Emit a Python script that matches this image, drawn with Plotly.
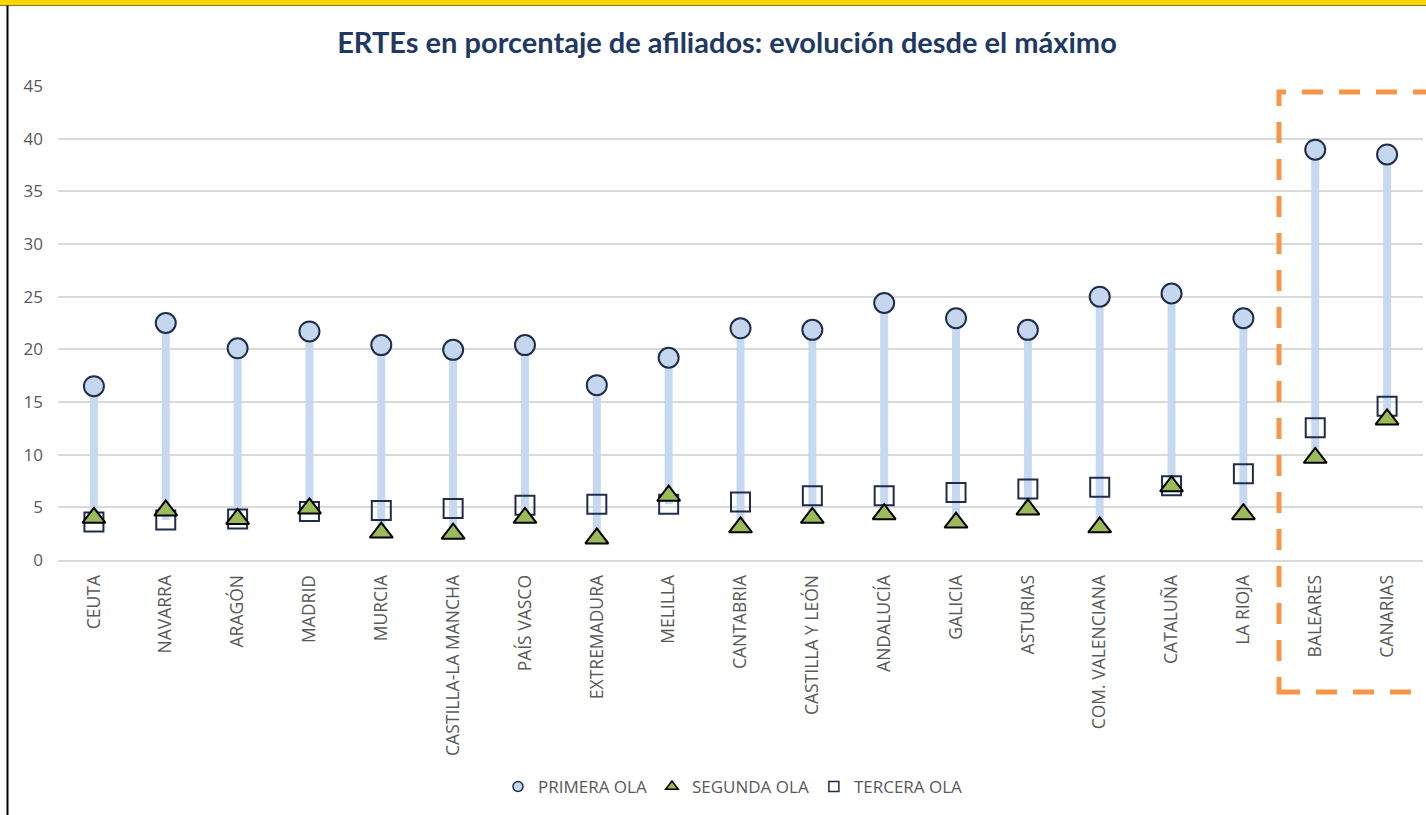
import plotly.graph_objects as go

# Datos (porcentaje de afiliados en ERTE)
comunidades = ["CEUTA", "NAVARRA", "ARAGÓN", "MADRID", "MURCIA", "CASTILLA-LA MANCHA",
               "PAÍS VASCO", "EXTREMADURA", "MELILLA", "CANTABRIA", "CASTILLA Y LEÓN",
               "ANDALUCÍA", "GALICIA", "ASTURIAS", "COM. VALENCIANA", "CATALUÑA",
               "LA RIOJA", "BALEARES", "CANARIAS"]
primera_ola = [16.5, 22.5, 20.1, 21.7, 20.4, 19.95, 20.4, 16.6, 19.2, 22.0, 21.85,
               24.4, 22.95, 21.85, 25.0, 25.3, 22.95, 38.95, 38.5]
segunda_ola = [4.0, 4.7, 3.9, 4.9, 2.6, 2.5, 4.0, 2.05, 6.1, 3.1, 4.0,
               4.35, 3.55, 4.8, 3.1, 7.0, 4.35, 9.7, 13.35]
tercera_ola = [3.6, 3.8, 3.9, 4.6, 4.7, 4.9, 5.2, 5.3, 5.3, 5.5, 6.1,
               6.1, 6.4, 6.75, 6.9, 7.05, 8.2, 12.55, 14.6]

W, H = 1426, 815
L, R, T, B = 58, 3, 86, 255
plot_h = H - T - B
plot_w = W - L - R

def py(p):  # pixel y -> paper y
    return (H - B - p) / plot_h

def px_(p):  # pixel x -> paper x
    return (p - L) / plot_w

# lineas max-min por comunidad
hl_x, hl_y = [], []
for c, a, b, t in zip(comunidades, primera_ola, segunda_ola, tercera_ola):
    hl_x += [c, c, None]
    hl_y += [max(a, b, t), min(a, b, t), None]

fig = go.Figure()
fig.add_trace(go.Scatter(x=hl_x, y=hl_y, mode="lines", line=dict(color="#C6D9F1", width=8),
                         showlegend=False, hoverinfo="skip"))
fig.add_trace(go.Scatter(x=comunidades, y=primera_ola, mode="markers", name="PRIMERA OLA",
                         showlegend=False,
                         marker=dict(symbol="circle", size=20, color="#C5D7EF",
                                     line=dict(color="#1F2D4A", width=2))))
fig.add_trace(go.Scatter(x=comunidades, y=tercera_ola, mode="markers", name="TERCERA OLA",
                         showlegend=False,
                         marker=dict(symbol="square-open", size=19, color="#1F2D4A",
                                     line=dict(width=2))))
fig.add_trace(go.Scatter(x=comunidades, y=segunda_ola, mode="markers", name="SEGUNDA OLA",
                         showlegend=False,
                         marker=dict(symbol="triangle-up", size=20, color="#9BBB59",
                                     line=dict(color="#000000", width=2))))

# entradas de leyenda con marcadores pequeños
fig.add_trace(go.Scatter(x=[None], y=[None], mode="markers", name="PRIMERA OLA",
                         marker=dict(symbol="circle", size=10, color="#C5D7EF",
                                     line=dict(color="#1F2D4A", width=1.5))))
fig.add_trace(go.Scatter(x=[None], y=[None], mode="markers", name="SEGUNDA OLA",
                         marker=dict(symbol="triangle-up", size=11, color="#9BBB59",
                                     line=dict(color="#000000", width=1.5))))
fig.add_trace(go.Scatter(x=[None], y=[None], mode="markers", name="TERCERA OLA",
                         marker=dict(symbol="square-open", size=10, color="#1F2D4A",
                                     line=dict(width=1.5))))

# marco: franja amarilla superior y linea negra izquierda
fig.add_shape(type="rect", xref="paper", yref="paper", x0=px_(-5), x1=px_(W + 5),
              y0=py(5), y1=py(-2), fillcolor="#FFD500", line=dict(width=0), layer="above")
fig.add_shape(type="line", xref="paper", yref="paper", x0=px_(0), x1=px_(W),
              y0=py(5.5), y1=py(5.5), line=dict(color="#8A7A20", width=1))
fig.add_shape(type="line", xref="paper", yref="paper", x0=px_(7.5), x1=px_(7.5),
              y0=py(5.5), y1=py(H + 2), line=dict(color="#000000", width=2))

# recuadro naranja discontinuo (Baleares y Canarias)
fig.add_shape(type="rect", xref="paper", yref="paper", x0=px_(1279), x1=px_(1445),
              y0=py(692), y1=py(92),
              line=dict(color="#F79646", width=5, dash="21px,16px"))

fig.update_layout(
    width=W, height=H,
    margin=dict(l=L, r=R, t=T, b=B),
    plot_bgcolor="white", paper_bgcolor="white",
    title=dict(text="<b>ERTEs en porcentaje de afiliados: evolución desde el máximo</b>",
               x=727 / W, xanchor="center", y=1 - 43 / H, yanchor="middle",
               font=dict(family="Lato", size=29, color="#1F3864")),
    font=dict(family="Open Sans", color="#595959"),
    xaxis=dict(type="category", categoryorder="array", categoryarray=comunidades,
               tickangle=-90, tickfont=dict(size=17.5, color="#595959"),
               showgrid=False, showline=True, linecolor="#D9D9D9", linewidth=2,
               ticks="", ticklabelstandoff=6, range=[-0.5, len(comunidades) - 0.5]),
    yaxis=dict(range=[0, 45], dtick=5, tickfont=dict(size=17, color="#595959"),
               showgrid=True, gridcolor="#D9D9D9", gridwidth=2, zeroline=False,
               showline=False, ticks="", ticklabelstandoff=14),
    legend=dict(orientation="h", x=px_(733), xanchor="center", y=py(787), yanchor="middle",
                font=dict(size=17, color="#595959"), itemwidth=30, tracegroupgap=0),
)

# la pagina sin margen para que la figura ocupe toda la ventana
fig.write_html("out.html", config={"displayModeBar": False},
               post_script="document.body.style.margin='0px';")
